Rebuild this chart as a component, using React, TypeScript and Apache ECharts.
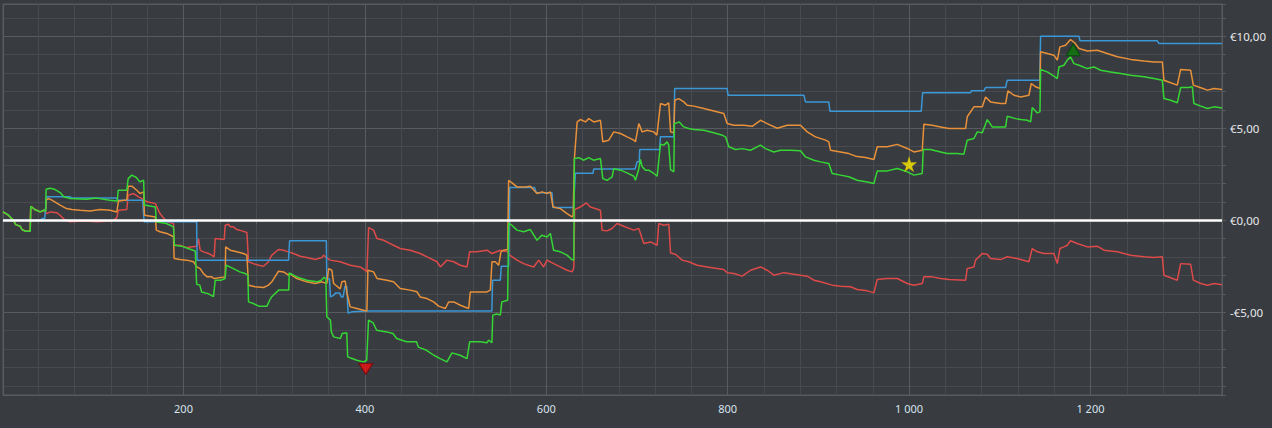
import React, { useEffect, useRef } from "react";
import * as echarts from "echarts";

// x-axis range and y-axis range
const X_RANGE = [1, 1345];
const Y_RANGE = [-9.5, 11.75];

const GREEN: [number, number][] = [
  [1,0.45],[7,0.27],[12.5,0.0],[15,-0.24],[20,-0.33],[22,-0.51],[26,-0.6],[31,-0.6],[31.6,0.76],[36,0.58],[42,0.45],[46,0.54],[48,0.5],[48.5,1.68],[53,1.74],[58,1.68],[64,1.5],[68,1.27],[75,1.18],[93,1.14],[104,1.2],[119,1.09],[127,1.05],[128,1.63],[137.5,1.63],[139,2.26],[143,2.45],[148,2.32],[152,2.08],[156,2.17],[157,0.82],[169,0.72],[170,-0.09],[181,-0.18],[189,-0.36],[190,-1.36],[198,-1.41],[205,-1.54],[213,-1.67],[214.5,-3.48],[218,-3.53],[220,-3.9],[227,-3.99],[233,-4.15],[235,-3.26],[241,-3.26],[246,-3.17],[247,-2.45],[251,-2.54],[255,-2.63],[262,-2.81],[268,-2.9],[271,-2.99],[271.7,-4.44],[277,-4.53],[283,-4.67],[292,-4.67],[295,-4.35],[297,-4.17],[305,-3.8],[312,-3.8],[316,-3.8],[316.6,-2.86],[325,-3.08],[336,-3.26],[347,-3.35],[352,-3.26],[355,-3.1],[357,-3.2],[358,-5.25],[362,-5.43],[363,-6.07],[365.5,-6.34],[373,-6.43],[375,-6.16],[380,-6.12],[381,-7.43],[386,-7.52],[391,-7.61],[398.5,-7.7],[402,-7.61],[404,-5.43],[409,-5.58],[413,-5.98],[424,-6.07],[431,-6.16],[435,-6.43],[446,-6.61],[457,-6.61],[459,-6.9],[468,-7.07],[476,-7.34],[483,-7.52],[490.5,-7.7],[496,-7.21],[505,-7.34],[512.6,-7.52],[515.5,-6.61],[527,-6.61],[534.6,-6.66],[536.5,-6.52],[540,-6.66],[541,-5.16],[545.6,-5.1],[549.3,-5.16],[551,-4.44],[557.4,-4.35],[558.5,-0.18],[562,-0.27],[567.7,-0.54],[575,-0.63],[582.4,-0.51],[589.8,-1.09],[595,-0.82],[600.8,-0.91],[604.5,-0.72],[608,-1.63],[615.5,-1.72],[622.9,-1.9],[628,-2.14],[630.3,-2.17],[631,3.35],[636,3.4],[641,3.26],[646.8,3.4],[652,3.26],[659.7,3.35],[662.3,2.26],[667,2.17],[672.6,2.35],[674.4,2.8],[681.8,2.72],[689,2.57],[696.5,2.39],[698.3,2.17],[702,2.8],[703.8,3.3],[705.7,2.9],[709.4,2.72],[713,2.72],[718.5,2.54],[722.2,2.39],[725.9,4.13],[729.6,4.08],[733.2,4.26],[735,4.08],[737,2.75],[740.6,2.63],[741.3,5.25],[746.6,5.34],[751.6,5.07],[757,4.98],[762.7,4.93],[773.7,4.89],[784.7,4.75],[794,4.62],[797.6,4.53],[801.3,3.99],[808.6,3.84],[816,3.89],[825.2,3.8],[836.2,4.08],[841.7,3.89],[851,3.71],[858.2,3.8],[869.3,3.8],[880.3,3.77],[885.8,3.44],[895,3.26],[902.4,3.17],[911.5,3.08],[915.2,2.54],[924.4,2.45],[933.6,2.36],[942.8,2.17],[953.8,2.08],[961.2,1.99],[964.9,2.68],[976,2.68],[986.9,2.81],[998,2.63],[1005.3,2.45],[1014.5,2.54],[1015.6,3.84],[1023.7,3.84],[1034.7,3.71],[1042,3.62],[1053,3.62],[1060.4,3.59],[1064.1,4.35],[1071.5,4.44],[1075.2,4.8],[1080.7,4.75],[1086.2,5.47],[1091.7,5.07],[1100.9,5.07],[1106.4,5.07],[1108.2,5.65],[1117.4,5.52],[1123,5.47],[1130.3,5.43],[1134,5.34],[1135.8,6.12],[1141.3,5.83],[1144.3,5.89],[1145,8.19],[1152.4,8.06],[1159.7,7.83],[1163.4,7.7],[1165.2,8.33],[1170.7,8.42],[1174.4,8.7],[1178,8.88],[1181.7,8.51],[1187.3,8.42],[1196.5,8.24],[1203.8,8.33],[1211.2,8.15],[1222.2,8.06],[1233.2,7.97],[1244.2,7.88],[1259,7.79],[1270,7.7],[1279.2,7.61],[1281,6.61],[1288.4,6.52],[1295.7,6.38],[1299.4,7.21],[1308.6,7.21],[1312.3,7.25],[1314,6.34],[1321.6,6.2],[1329,6.07],[1336.3,6.16],[1345,6.1]
];

const ORANGE: [number, number][] = [
  [1,0.45],[7,0.27],[12.5,0],[15,-0.24],[20,-0.33],[22,-0.51],[26,-0.6],[31,-0.6],[31.6,0.76],[36,0.58],[42,0.45],[46,0.54],[48,0.5],[48.5,1.09],[51,1.18],[55,1.09],[64,0.82],[71,0.63],[77,0.58],[86,0.54],[97,0.5],[108,0.58],[119,0.54],[126.5,0.45],[128.3,1.05],[137.5,1.1],[139,1.85],[143,1.85],[148.5,1.63],[152,1.45],[156,1.54],[157,0.27],[169,0.18],[170,-0.54],[174,-0.63],[181.6,-0.72],[189,-0.9],[189.7,-2.08],[196,-2.14],[203.7,-2.17],[211,-2.26],[214.7,-2.54],[218.4,-2.63],[222,-2.9],[226,-3.08],[231,-3.08],[233.8,-3.17],[246,-3.08],[246.5,-1.45],[251.5,-1.63],[258.8,-1.72],[266,-1.81],[269.9,-1.9],[271.7,-3.53],[279,-3.62],[288.3,-3.66],[293.7,-3.53],[297.4,-3.35],[304.8,-2.77],[310.3,-2.81],[315.8,-2.99],[317,-2.9],[325,-3.17],[336,-3.35],[345.2,-3.44],[352.6,-3.35],[358,-3.44],[360,-2.63],[363.6,-2.72],[365.5,-3.44],[372.8,-3.73],[374.6,-3.35],[378.3,-3.31],[380,-3.9],[383.8,-4.71],[391.2,-4.8],[398.5,-4.89],[402.2,-4.93],[403.3,-2.72],[409.6,-2.81],[413.3,-3.17],[424.3,-3.26],[431.6,-3.35],[439,-3.71],[450,-3.8],[457.4,-3.89],[461,-4.17],[468.5,-4.26],[475.8,-4.44],[481.3,-4.67],[488.7,-4.8],[492.4,-4.44],[498,-4.44],[505.2,-4.62],[514.4,-4.8],[516.2,-3.9],[525.4,-3.9],[534.6,-3.9],[538.3,-3.8],[540.1,-2.26],[543.8,-2.26],[547.5,-2.45],[550,-1.72],[553,-1.63],[557.4,-1.59],[558.5,2.17],[562.2,2.03],[567.7,1.81],[576.9,1.81],[582.4,1.85],[589.8,1.45],[595.3,1.54],[600.8,1.45],[604.5,1.54],[607.4,0.72],[615.5,0.63],[622.9,0.36],[628.4,0.18],[629.6,0.27],[631,3.35],[634,5.34],[637.6,5.47],[643.2,5.34],[646.8,5.52],[652.4,5.34],[659.7,5.43],[662.3,4.26],[668.9,4.35],[674.4,4.8],[681.8,4.71],[689.1,4.53],[696.5,4.35],[698.3,4.26],[702,5.25],[705.7,4.8],[711.2,4.89],[718.5,4.8],[722,4.62],[725.9,6.34],[731.4,6.25],[735,6.38],[737,4.8],[740.6,4.75],[741.7,6.52],[746,6.61],[751.6,6.43],[755.3,6.25],[762.7,6.2],[773.7,6.07],[784.7,5.94],[795.7,5.8],[799.4,5.25],[806.8,5.16],[817.8,5.16],[827,5.1],[836.2,5.43],[843.5,5.25],[854.6,5.0],[865.6,5.16],[880.3,5.16],[887.7,4.8],[896.8,4.53],[907.9,4.35],[911.5,4.26],[913.4,3.8],[924.4,3.71],[933.6,3.62],[941,3.48],[952,3.41],[961.2,3.3],[964.9,3.99],[976,3.99],[986.9,4.12],[998,3.9],[1005.3,3.71],[1014.5,3.8],[1016.3,5.22],[1025.5,5.16],[1034.7,5.07],[1043.9,4.98],[1062.3,4.98],[1064.1,5.62],[1071.5,6.16],[1080.7,6.16],[1084.3,6.7],[1089.8,6.43],[1100.9,6.34],[1106.4,6.34],[1109,7.03],[1115.6,6.79],[1123,6.7],[1132.1,6.79],[1134.7,7.43],[1139.5,7.25],[1144.3,7.16],[1145,9.15],[1152.4,9.06],[1159.7,8.97],[1163.4,8.7],[1166.3,9.42],[1172.6,9.51],[1178,9.82],[1182.5,9.64],[1187.3,9.33],[1196.5,9.2],[1207.5,9.24],[1218.5,9.06],[1229.5,8.88],[1244.2,8.74],[1259,8.65],[1270,8.6],[1279.2,8.6],[1281,7.61],[1288.4,7.47],[1295.7,7.34],[1299.4,8.19],[1310.4,8.15],[1313.4,7.34],[1321.6,7.2],[1329,7.07],[1336.3,7.16],[1345,7.1]
];

const BLUE: [number, number][] = [
  [1,0],[43,0],[44,0.09],[47,0.09],[49,1.27],[75,1.27],[77,1.2],[126,1.2],[128,1.09],[155,1.09],[156.6,-0.09],[214.5,-0.09],[215,-2.17],[315.8,-2.17],[317,-1.12],[357.5,-1.12],[358,-3.17],[361,-3.2],[362,-4.17],[365,-4.1],[368,-3.95],[372,-3.95],[374,-4.17],[376,-4.17],[378,-3.6],[380,-3.6],[381.5,-5.05],[386,-4.98],[402,-4.93],[540,-4.93],[540.8,-3.26],[549.3,-3.26],[550.4,-2.5],[558.5,-2.5],[559.6,1.78],[587,1.78],[589,1.49],[606.3,1.49],[607.4,0.69],[630,0.69],[632,2.55],[651.5,2.55],[652.3,2.78],[698,2.78],[700,3.17],[702.5,3.17],[703,3.84],[725,3.84],[725.8,4.53],[740.5,4.53],[741.6,7.16],[799.3,7.16],[800.4,6.79],[884,6.79],[885.8,6.43],[911.5,6.43],[912.7,5.92],[1013.4,5.92],[1014.9,6.92],[1067.8,6.92],[1068.5,7.03],[1082.5,7.03],[1084.3,7.21],[1106.4,7.21],[1108.2,7.61],[1144,7.61],[1145,10.0],[1187.3,10.0],[1188.4,9.75],[1273.7,9.75],[1275.5,9.6],[1345,9.6]
];

const RED: [number, number][] = [
  [1,0.45],[7,0.27],[12.5,0],[15,-0.24],[20,-0.33],[22,-0.51],[26,-0.6],[31,-0.6],[31.6,0.76],[36,0.58],[42,0.45],[46,0.54],[48,0.45],[49.3,0.36],[53,0.45],[60.5,0.4],[64,0.27],[69.5,0.0],[75,-0.09],[90,-0.05],[105,-0.09],[119,-0.05],[123,0.0],[126.5,0.14],[128.3,0.54],[137.5,0.58],[139,1.36],[145,1.45],[150.5,1.27],[156,1.12],[160,1.0],[169,0.9],[174,0.36],[181.6,-0.09],[189,-0.18],[189.7,-1.36],[196,-1.36],[203.7,-1.49],[214.7,-1.41],[216.5,-1.0],[218.4,-1.63],[222,-1.72],[227.6,-1.81],[231,-1.9],[233.8,-1.99],[235,-1.0],[244.9,-1.05],[246,-0.27],[249.6,-0.22],[251.5,-0.36],[255,-0.36],[258.8,-0.51],[264.4,-0.58],[269.9,-0.67],[271.7,-2.26],[277,-2.36],[282.8,-2.45],[288.3,-2.5],[293.7,-2.26],[297.4,-1.9],[304.8,-1.59],[310.3,-1.63],[315.8,-1.72],[321.3,-1.81],[328.7,-1.96],[336,-2.03],[345.2,-2.14],[352.6,-2.03],[354.4,-1.9],[356.3,-1.99],[361.8,-2.17],[372.8,-2.26],[383.8,-2.45],[394.8,-2.54],[400.4,-2.72],[402.2,-2.81],[404.1,-0.4],[409.6,-0.54],[413.3,-1.0],[420.6,-1.09],[428,-1.27],[431.6,-1.36],[439,-1.54],[450,-1.63],[461,-1.81],[468.5,-1.99],[479.5,-2.26],[483.2,-2.54],[490.5,-2.17],[497.8,-2.26],[505.2,-2.45],[512.6,-2.54],[515.5,-1.72],[523.6,-1.72],[534.6,-1.63],[540.1,-1.81],[549.3,-1.63],[557.4,-1.72],[559.6,-1.9],[567.7,-2.17],[575,-2.36],[586.1,-2.54],[591.6,-2.17],[597.1,-2.54],[600.8,-2.17],[608.2,-2.36],[615.5,-2.54],[622.9,-2.72],[628.4,-2.81],[630.3,-2.6],[631.3,0.58],[637.6,0.72],[644.2,0.94],[648.6,0.72],[659.7,0.54],[661.5,-0.54],[667,-0.58],[672.5,-0.45],[678,-0.18],[685.4,-0.33],[696.4,-0.54],[702,-0.45],[707.5,-1.27],[715,-1.18],[722.2,-1.36],[724,-0.18],[729.5,-0.27],[735.1,-0.22],[737,-1.78],[742.4,-1.85],[749.8,-2.17],[757,-2.26],[766.3,-2.45],[777.3,-2.54],[788.3,-2.63],[795.7,-2.68],[799.4,-2.85],[806.8,-2.9],[816,-3.04],[825.2,-2.72],[836.2,-2.54],[843.5,-2.72],[851,-2.99],[862,-2.85],[880.3,-2.99],[887.7,-3.04],[895,-3.26],[902.4,-3.35],[915.2,-3.53],[924.4,-3.59],[935.4,-3.62],[942.8,-3.77],[953.8,-3.84],[961.2,-3.95],[964.9,-3.22],[976,-3.17],[986.9,-3.17],[998,-3.44],[1005.3,-3.53],[1014.5,-3.44],[1016.3,-3.08],[1025.5,-3.08],[1034.7,-3.17],[1043.9,-3.22],[1062.3,-3.26],[1064.1,-2.63],[1071.5,-2.54],[1073.3,-2.17],[1080.7,-1.81],[1086.2,-1.85],[1089.8,-2.08],[1100.9,-2.14],[1108.2,-1.99],[1119.2,-2.08],[1132.1,-2.26],[1135.8,-1.54],[1141.3,-1.72],[1148.7,-1.81],[1159.7,-1.81],[1163.4,-2.36],[1166.3,-1.54],[1170.7,-1.45],[1174.4,-1.36],[1178,-1.12],[1185.4,-1.27],[1196.5,-1.45],[1207.5,-1.41],[1214.9,-1.63],[1229.6,-1.72],[1244.2,-1.9],[1259,-1.99],[1270,-2.03],[1279.2,-1.99],[1281,-2.99],[1288.4,-3.13],[1295.7,-3.26],[1299.4,-2.36],[1310.4,-2.4],[1313.4,-3.26],[1321.6,-3.44],[1329,-3.53],[1336.3,-3.44],[1345,-3.51]
];

// markers: lowest point, highest point, star
const MIN_MARK: [number, number][] = [[401, -7.7]];
const MAX_MARK: [number, number][] = [[1181, 8.88]];
const STAR_MARK: [number, number][] = [[1000, 3.04]];

const STAR_PATH =
  "path://M50,0 L61,35 L98,35 L68,57 L79,91 L50,70 L21,91 L32,57 L2,35 L39,35 Z";

const BG = "#383b3f";
const MAJOR = "#585b5f";
const MINOR = "#474a4e";

function fmtX(v: number): string {
  return String(v).replace(/\B(?=(\d{3})+(?!\d))/g, " ");
}
function fmtY(v: number): string {
  return (v < 0 ? "-" : "") + "€" + Math.abs(v).toFixed(2).replace(".", ",");
}

export default function App() {
  const ref = useRef<HTMLDivElement>(null);
  useEffect(() => {
    document.body.style.margin = "0";
    document.body.style.background = BG;
    if (!ref.current) return;
    const chart = echarts.init(ref.current, undefined, { renderer: "svg" });
    const lineSeries = (name: string, data: [number, number][], color: string) => ({
      name,
      type: "line",
      data,
      showSymbol: false,
      symbol: "none",
      lineStyle: { color, width: 1.5 },
      itemStyle: { color },
      silent: true,
    });
    chart.setOption({
      animation: false,
      backgroundColor: BG,
      grid: {
        left: 3,
        right: 50,
        top: 4,
        bottom: 33,
        containLabel: false,
        outerBoundsMode: "none",
        show: true,
        borderColor: MAJOR,
        borderWidth: 1,
        backgroundColor: BG,
      },
      xAxis: {
        type: "value",
        min: X_RANGE[0],
        max: X_RANGE[1],
        minInterval: 200,
        maxInterval: 200,
        axisLine: { show: true, lineStyle: { color: MAJOR } },
        axisTick: { show: true, length: 4, lineStyle: { color: MAJOR } },
        minorTick: { show: true, splitNumber: 5, length: 4, lineStyle: { color: MAJOR } },
        splitLine: { show: true, lineStyle: { color: MAJOR, width: 1 } },
        minorSplitLine: { show: true, lineStyle: { color: MINOR, width: 1 } },
        axisLabel: {
          color: "#d6e2ee",
          fontSize: 11,
          fontFamily: "Noto Sans",
          margin: 8,
          showMinLabel: false,
          showMaxLabel: false,
          formatter: fmtX,
        },
      },
      yAxis: {
        type: "value",
        position: "right",
        min: Y_RANGE[0],
        max: Y_RANGE[1],
        minInterval: 5,
        maxInterval: 5,
        axisLine: { show: true, lineStyle: { color: MAJOR } },
        axisTick: { show: true, length: 4, lineStyle: { color: MAJOR } },
        minorTick: { show: true, splitNumber: 5, length: 4, lineStyle: { color: MAJOR } },
        splitLine: { show: true, lineStyle: { color: MAJOR, width: 1 } },
        minorSplitLine: { show: true, lineStyle: { color: MINOR, width: 1 } },
        axisLabel: {
          color: "#e6e8ec",
          fontSize: 11.5,
          fontFamily: "Noto Sans",
          margin: 8,
          showMinLabel: false,
          showMaxLabel: false,
          formatter: fmtY,
        },
      },
      series: [
        lineSeries("Red", RED, "#dc4a4a"),
        lineSeries("Blue", BLUE, "#3b97d6"),
        lineSeries("Orange", ORANGE, "#e8913a"),
        lineSeries("Green", GREEN, "#35d635"),
        {
          name: "zero",
          type: "line",
          data: [],
          z: 3,
          silent: true,
          markLine: {
            silent: true,
            symbol: ["none", "none"],
            label: { show: false },
            lineStyle: { color: "#ffffff", width: 2.5, type: "solid" },
            data: [{ yAxis: 0 }],
          },
        },
        {
          name: "min",
          type: "scatter",
          z: 4,
          silent: true,
          data: MIN_MARK,
          symbol: "triangle",
          symbolRotate: 180,
          symbolSize: [14, 11],
          symbolOffset: [0, 7],
          itemStyle: { color: "#ee1111", borderColor: "#7a0000", borderWidth: 1 },
        },
        {
          name: "max",
          type: "scatter",
          z: 4,
          silent: true,
          data: MAX_MARK,
          symbol: "triangle",
          symbolSize: [14, 12],
          symbolOffset: [0, -7],
          itemStyle: { color: "#0c7a0c", borderColor: "#054405", borderWidth: 1 },
        },
        {
          name: "star",
          type: "scatter",
          z: 4,
          silent: true,
          data: STAR_MARK,
          symbol: STAR_PATH,
          symbolSize: 15,
          itemStyle: { color: "#ffee00", borderColor: "#c8b400", borderWidth: 0.5 },
        },
      ],
    });
    return () => chart.dispose();
  }, []);
  return <div ref={ref} style={{ width: 1272, height: 428 }} />;
}
